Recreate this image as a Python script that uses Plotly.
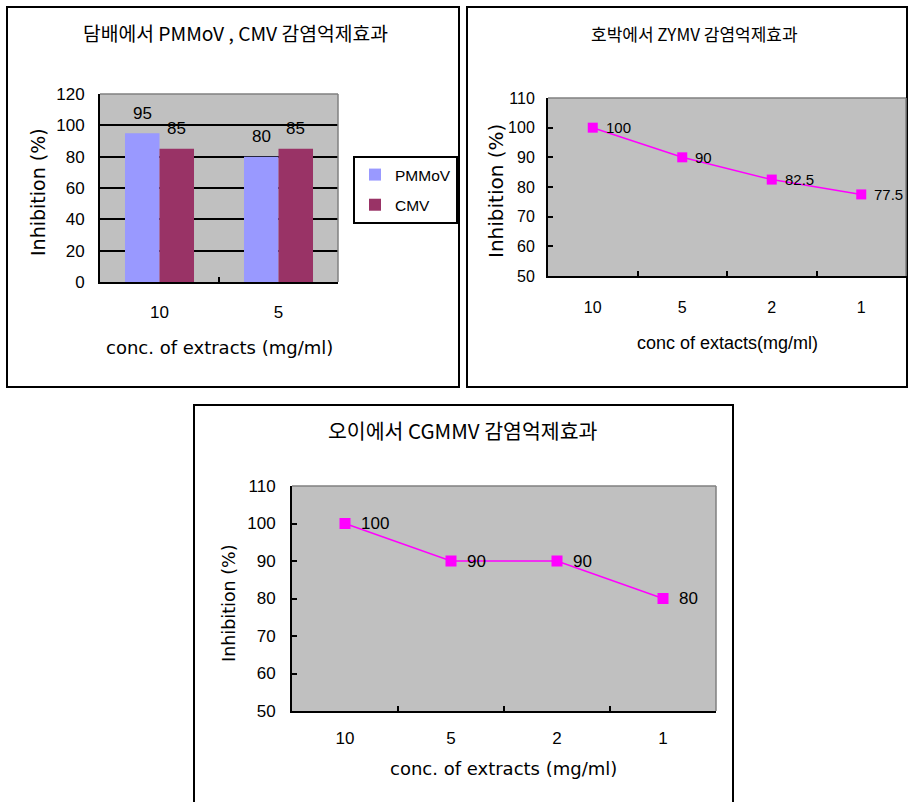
import plotly.graph_objects as go

W, H = 908, 802

# ---------------- data ----------------
bar_categories = ["10", "5"]
pmmov_values = [95, 80]
cmv_values = [85, 85]
bar_y_ticks = [0, 20, 40, 60, 80, 100, 120]

zymv_categories = ["10", "5", "2", "1"]
zymv_values = [100, 90, 82.5, 77.5]

cgmmv_categories = ["10", "5", "2", "1"]
cgmmv_values = [100, 90, 90, 80]

line_y_ticks = [50, 60, 70, 80, 90, 100, 110]

title1 = "담배에서 PMMoV , CMV 감염억제효과"
title2 = "호박에서 ZYMV 감염억제효과"
title3 = "오이에서 CGMMV 감염억제효과"
xtitle1 = "conc. of extracts (mg/ml)"
xtitle2 = "conc of extacts(mg/ml)"
xtitle3 = "conc. of extracts (mg/ml)"
ytitle = "Inhibition (%)"

# ---------------- helpers ----------------
def fx(p):
    return p / W

def fy(p):
    return 1 - p / H

KR = "Noto Sans CJK KR"
SANS = "Liberation Sans, Arial, sans-serif"
WIDE = "DejaVu Sans, sans-serif"
MAGENTA = "#FF00FF"
BG = "#C0C0C0"

BARGAP = 0.42

fig = go.Figure()

fig.add_trace(go.Bar(
    x=bar_categories, y=pmmov_values, name="PMMoV",
    marker=dict(color="#9999FF", line=dict(width=0)),
    xaxis="x", yaxis="y", legendgroup="p",
))
fig.add_trace(go.Bar(
    x=bar_categories, y=cmv_values, name="CMV",
    marker=dict(color="#993366", line=dict(width=0)),
    xaxis="x", yaxis="y", legendgroup="c",
))

fig.add_trace(go.Scatter(
    x=zymv_categories, y=zymv_values, mode="lines+markers",
    line=dict(color=MAGENTA, width=1.5),
    marker=dict(symbol="square", size=10, color=MAGENTA),
    xaxis="x2", yaxis="y2", showlegend=False,
))
fig.add_trace(go.Scatter(
    x=cgmmv_categories, y=cgmmv_values, mode="lines+markers",
    line=dict(color=MAGENTA, width=1.5),
    marker=dict(symbol="square", size=11, color=MAGENTA),
    xaxis="x3", yaxis="y3", showlegend=False,
))

def xaxis_cfg(domain, anchor, n, size, standoff):
    return dict(
        domain=domain, anchor=anchor, type="category", range=[-0.5, n - 0.5],
        showline=True, linecolor="black", linewidth=2,
        ticks="inside", tickson="boundaries", ticklen=5,
        tickcolor="black", tickwidth=1.5, automargin=False,
        showgrid=False, zeroline=False, fixedrange=True,
        tickfont=dict(family=SANS, size=size, color="black"),
        ticklabelstandoff=standoff,
    )

def yaxis_cfg(domain, anchor, rng, vals, size, standoff, grid):
    return dict(
        domain=domain, anchor=anchor, range=rng, tickvals=vals,
        showline=True, linecolor="black", linewidth=2,
        ticks="inside", ticklen=5, tickcolor="black", tickwidth=1.5,
        showgrid=grid, gridcolor="black", gridwidth=1.5, automargin=False,
        zeroline=False, fixedrange=True,
        tickfont=dict(family=SANS, size=size, color="black"),
        ticklabelstandoff=standoff,
    )

annotations = []
half = (1 - BARGAP) / 4
for i, v in enumerate(pmmov_values):
    annotations.append(dict(x=i - half, y=v, xref="x", yref="y", text=f"{v:g}",
                            showarrow=False, yshift=20,
                            font=dict(family=SANS, size=17, color="black")))
for i, v in enumerate(cmv_values):
    annotations.append(dict(x=i + half, y=v, xref="x", yref="y", text=f"{v:g}",
                            showarrow=False, yshift=20,
                            font=dict(family=SANS, size=17, color="black")))
for i, v in enumerate(zymv_values):
    annotations.append(dict(x=i, y=v, xref="x2", yref="y2", text=f"{v:g}",
                            showarrow=False, xanchor="left", xshift=11,
                            font=dict(family=SANS, size=15, color="black")))
for i, v in enumerate(cgmmv_values):
    annotations.append(dict(x=i, y=v, xref="x3", yref="y3", text=f"{v:g}",
                            showarrow=False, xanchor="left", xshift=14,
                            font=dict(family=SANS, size=17, color="black")))

def txt(x, y, s, family, size, angle=0):
    annotations.append(dict(x=fx(x), y=fy(y), xref="paper", yref="paper",
                            text=s, showarrow=False, textangle=angle,
                            xanchor="center", yanchor="middle",
                            font=dict(family=family, size=size, color="black")))

txt(235, 33, title1, KR, 19.3)
txt(694, 33, title2, KR, 17)
txt(463, 430, title3, KR, 20.5)
txt(219, 347, xtitle1, WIDE, 18)
txt(727, 343, xtitle2, SANS, 18)
txt(503, 768, xtitle3, WIDE, 18)
txt(38, 192, ytitle, WIDE, 19, -90)
txt(496, 191, ytitle, WIDE, 20, -90)
txt(229, 603, ytitle, WIDE, 17.5, -90)

shapes = []
for (x0, y0, x1, y1) in [(7, 7, 459, 387), (467, 7, 907, 387), (194, 405, 733, 806)]:
    shapes.append(dict(type="rect", xref="paper", yref="paper",
                       x0=fx(x0), x1=fx(x1), y0=fy(y1), y1=fy(y0),
                       line=dict(color="black", width=2)))
for ax in ["", "2", "3"]:
    shapes.append(dict(type="line", xref=f"x{ax} domain", yref=f"y{ax} domain",
                       x0=0, x1=1, y0=1, y1=1, line=dict(color="#808080", width=1.5)))
    shapes.append(dict(type="line", xref=f"x{ax} domain", yref=f"y{ax} domain",
                       x0=1, x1=1, y0=0, y1=1, line=dict(color="#808080", width=1.5)))

fig.update_layout(
    width=W, height=H, autosize=False,
    margin=dict(l=0, r=0, t=0, b=0, pad=0, autoexpand=False),
    paper_bgcolor="white", plot_bgcolor=BG,
    barmode="group", bargap=BARGAP, bargroupgap=0,
    showlegend=True,
    legend=dict(x=fx(353), y=fy(156), xanchor="left", yanchor="top",
                bordercolor="black", borderwidth=2, bgcolor="white",
                font=dict(family=SANS, size=15.5, color="black"),
                traceorder="grouped", tracegroupgap=7, itemwidth=30),
    xaxis=xaxis_cfg([fx(100), fx(338)], "y", 2, 17, 14),
    yaxis=yaxis_cfg([fy(282), fy(94)], "x", [0, 120], bar_y_ticks, 17, 10, True),
    xaxis2=xaxis_cfg([fx(548), fx(906)], "y2", 4, 16, 16),
    yaxis2=yaxis_cfg([fy(276), fy(98)], "x2", [50, 110], line_y_ticks, 16, 8, False),
    xaxis3=xaxis_cfg([fx(292), fx(716)], "y3", 4, 17, 11),
    yaxis3=yaxis_cfg([fy(711), fy(486)], "x3", [50, 110], line_y_ticks, 17, 11, False),
    annotations=annotations,
    shapes=shapes,
)

fig.write_html("out.html", config={"displayModeBar": False},
               post_script="document.body.style.margin='0';document.body.style.overflow='hidden';")
